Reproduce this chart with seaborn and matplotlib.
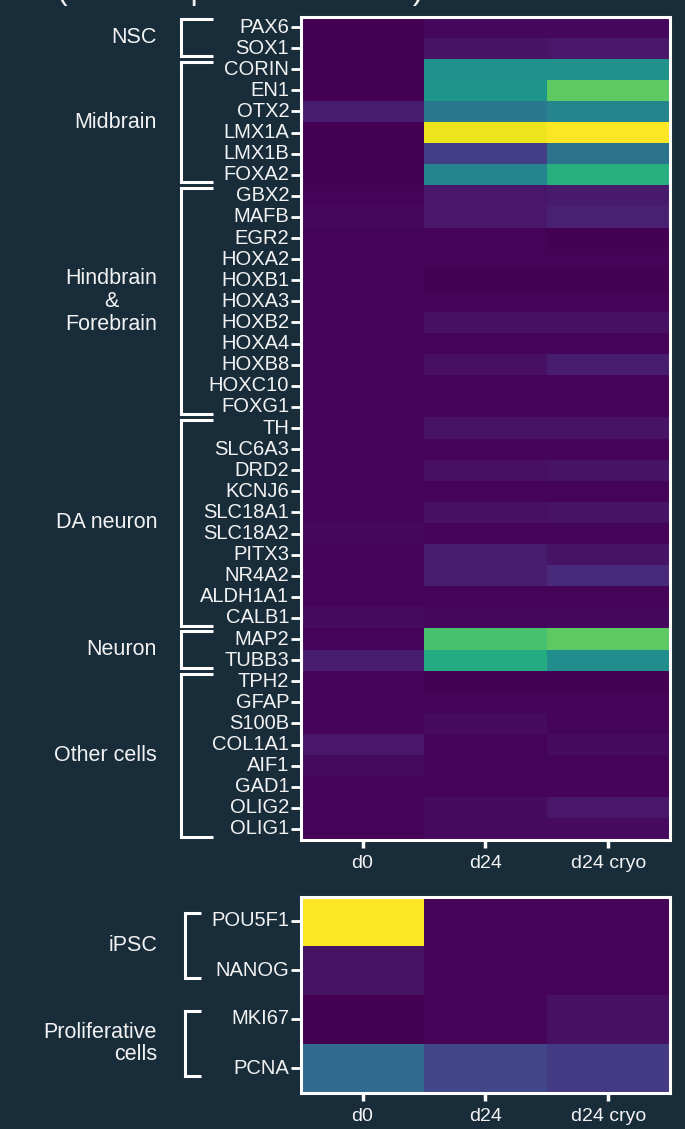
import numpy as np
import pandas as pd
import seaborn as sns
import matplotlib
matplotlib.use("Agg")
import matplotlib.pyplot as plt
from matplotlib.transforms import blended_transform_factory

# ---------------- data ----------------
conditions = ["d0", "d24", "d24 cryo"]

genes_top = ["PAX6", "SOX1",
             "CORIN", "EN1", "OTX2", "LMX1A", "LMX1B", "FOXA2",
             "GBX2", "MAFB", "EGR2", "HOXA2", "HOXB1", "HOXA3", "HOXB2",
             "HOXA4", "HOXB8", "HOXC10", "FOXG1",
             "TH", "SLC6A3", "DRD2", "KCNJ6", "SLC18A1", "SLC18A2", "PITX3",
             "NR4A2", "ALDH1A1", "CALB1",
             "MAP2", "TUBB3",
             "TPH2", "GFAP", "S100B", "COL1A1", "AIF1", "GAD1", "OLIG2", "OLIG1"]
d0_top = [0.00, 0.00,
          0.00, 0.00, 0.08, 0.00, 0.00, 0.00,
          0.01, 0.02, 0.01, 0.01, 0.01, 0.01, 0.01, 0.01, 0.01, 0.01, 0.01,
          0.01, 0.01, 0.01, 0.01, 0.01, 0.02, 0.01, 0.01, 0.01, 0.03,
          0.01, 0.08,
          0.01, 0.01, 0.01, 0.06, 0.03, 0.01, 0.01, 0.01]
d24_top = [0.02, 0.05,
           0.50, 0.52, 0.40, 0.97, 0.18, 0.45,
           0.06, 0.06, 0.01, 0.01, 0.00, 0.01, 0.04, 0.01, 0.04, 0.01, 0.01,
           0.05, 0.01, 0.04, 0.01, 0.04, 0.01, 0.08, 0.08, 0.01, 0.02,
           0.71, 0.61,
           0.00, 0.01, 0.03, 0.01, 0.01, 0.01, 0.03, 0.03]
cryo_top = [0.02, 0.06,
            0.50, 0.75, 0.45, 1.00, 0.38, 0.63,
            0.07, 0.09, 0.00, 0.01, 0.00, 0.01, 0.04, 0.01, 0.08, 0.01, 0.01,
            0.05, 0.01, 0.05, 0.01, 0.05, 0.01, 0.05, 0.12, 0.01, 0.02,
            0.75, 0.49,
            0.00, 0.01, 0.01, 0.03, 0.01, 0.01, 0.06, 0.03]
groups_top = [("NSC", 2), ("Midbrain", 6), ("Hindbrain\n&\nForebrain", 11),
              ("DA neuron", 10), ("Neuron", 2), ("Other cells", 8)]

genes_bot = ["POU5F1", "NANOG", "MKI67", "PCNA"]
d0_bot = [1.00, 0.05, 0.00, 0.34]
d24_bot = [0.01, 0.01, 0.01, 0.21]
cryo_bot = [0.01, 0.01, 0.04, 0.17]
groups_bot = [("iPSC", 2), ("Proliferative\ncells", 2)]

title_text = "(mean expression values)"

# ---------------- style ----------------
BG = "#182c3a"
FG = "#f2f2f2"
sns.set_theme(style="white")
plt.rcParams["font.family"] = ["Liberation Sans", "DejaVu Sans"]

fig = plt.figure(figsize=(6.85, 11.29), dpi=100, facecolor=BG)
W, H = 685.0, 1129.0

def make_ax(left, top, right, bottom):
    return fig.add_axes([left / W, 1 - bottom / H, (right - left) / W, (bottom - top) / H])

ax1 = make_ax(301, 16.5, 670, 839.5)
ax2 = make_ax(301, 896.5, 670, 1092.5)

df_top = pd.DataFrame({"d0": d0_top, "d24": d24_top, "d24 cryo": cryo_top}, index=genes_top)
df_bot = pd.DataFrame({"d0": d0_bot, "d24": d24_bot, "d24 cryo": cryo_bot}, index=genes_bot)

for ax, df in [(ax1, df_top), (ax2, df_bot)]:
    sns.heatmap(df, ax=ax, cmap="viridis", vmin=0, vmax=1, cbar=False,
                xticklabels=conditions, yticklabels=list(df.index))
    ax.set_facecolor(BG)
    for s in ax.spines.values():
        s.set_visible(True)
        s.set_color("white")
        s.set_linewidth(2.2)
    ax.tick_params(axis="y", colors="white", length=7.5, width=2, labelcolor=FG,
                   labelsize=14.5, pad=1, left=True)
    ax.tick_params(axis="x", colors="white", length=6, width=2.5, labelcolor=FG,
                   labelsize=14, pad=5, bottom=True)
    ax.set_xlabel("")
    ax.set_ylabel("")
    for lab in ax.get_yticklabels():
        lab.set_rotation(0)
    for lab in ax.get_xticklabels():
        lab.set_rotation(0)

# ---------------- group brackets ----------------
def draw_groups(ax, groups, xv, xh, inset, label_x):
    tr = blended_transform_factory(fig.transFigure, ax.transData)
    start = 0
    for name, n in groups:
        y0 = start + inset
        y1 = start + n - inset
        xs = [xh / W, xv / W, xv / W, xh / W]
        ys = [y0, y0, y1, y1]
        ax.plot(xs, ys, transform=tr, color="white", lw=2.2, clip_on=False,
                solid_joinstyle="miter", solid_capstyle="butt")
        ax.text(label_x / W, start + n / 2.0, name, transform=tr, ha="right", va="center",
                color=FG, fontsize=15.5,
                multialignment="center" if "&" in name else "right",
                linespacing=1.12)
        start += n

draw_groups(ax1, groups_top, 181, 213, 0.14, 157)
draw_groups(ax2, groups_bot, 185, 201, 0.33, 157)

# partially visible title at the very top
fig.text(240 / W, 1 + 9 / H, title_text, ha="center", va="center", color=FG, fontsize=23)

fig.savefig("out.png", dpi=100, facecolor=BG)
